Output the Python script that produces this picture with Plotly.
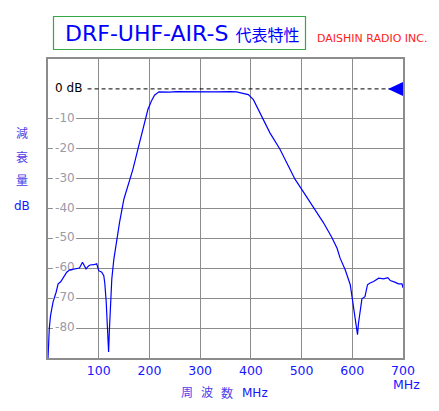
import plotly.graph_objects as go

# ---- data ----
freq_mhz = [0, 0.5, 2.6, 5, 10, 16, 20, 25, 30, 37, 43, 53, 62, 68, 72, 75, 80, 83, 90, 96,
            100, 106, 110, 112, 114.7, 117, 119.5, 121, 123, 125.8, 129.8, 134.4, 141, 149.6,
            157.5, 167.4, 177.2, 187, 197, 203.7, 210, 218.7, 240, 253, 280, 330, 359, 372,
            382, 395, 405, 414.5, 424.4, 437.6, 457.4, 473.9, 487, 500, 523, 543, 560, 570,
            576, 586, 596, 600.5, 605.7, 609, 610.3, 612.3, 615.6, 619, 625, 630, 635, 642,
            652, 662, 670, 675, 685, 691, 698, 700]
atten_db = [-90, -86, -80, -75.8, -71.2, -68, -65.2, -64.5, -63, -61.3, -60.5, -60.2, -59.9, -58, -59.5, -60.2, -59.2, -58.9, -58.8, -58.5,
            -60.8, -61.3, -62.5, -65, -71, -79, -88, -81, -72.5, -63.6, -57, -51.3, -44.7, -36.9,
            -32.5, -26.9, -20.2, -13.6, -6.9, -4.1, -2.1, -1.0, -1.1, -0.9, -1.0, -1.0, -0.9, -1.0,
            -1.4, -1.9, -3.6, -6.9, -10.2, -14.7, -20.2, -25.8, -30.2, -33.5, -39.7, -44.7, -49.8, -53.3,
            -56.6, -60.5, -65.5, -70.4, -77.1, -79.6, -82.2, -78.3, -73.5, -70.2, -69.5, -65.5, -64.9, -64.4,
            -63.3, -63.5, -63.1, -64.1, -64.7, -65.2, -65.2, -66.5]

x_ticks = [100, 200, 300, 400, 500, 600, 700]
x_tick_labels = ["100", "200", "300", "400", "500", "600", "700"]
y_ticks = [0, -10, -20, -30, -40, -50, -60, -70, -80]
y_tick_labels = ["0 dB", "-10", "-20", "-30", "-40", "-50", "-60", "-70", "-80"]
ref_level_db = 0

W, H = 439, 411
L, R, T, B = 48, 36, 59, 53
PW, PH = W - L - R, H - T - B

def px(xp):   # page pixel x -> paper
    return (xp - L) / PW

def py(yp):   # page pixel y -> paper
    return (H - B - yp) / PH

FONT = "DejaVu Sans, Noto Sans CJK JP"
GRID = "#8c8c8c"

fig = go.Figure()

# y tick labels inside the plot (drawn under the curve)
fig.add_trace(go.Scatter(
    x=[14] * len(y_ticks), y=y_ticks, text=y_tick_labels, mode="text",
    textposition="middle right", hoverinfo="skip", showlegend=False,
    textfont=dict(family=FONT, size=12,
                  color=["#000000" if v == ref_level_db else "#9a9aa8" for v in y_ticks]),
    cliponaxis=False,
))

fig.add_trace(go.Scatter(
    x=freq_mhz, y=atten_db, mode="lines",
    line=dict(color="#0000ff", width=1.2), showlegend=False,
))

shapes = []
# white masks behind gray labels
for v in y_ticks:
    if v == ref_level_db:
        continue
    shapes.append(dict(type="rect", xref="x", yref="y", x0=9.5, x1=55.5, y0=v - 2, y1=v + 2,
                       fillcolor="white", line=dict(width=0), layer="between"))
# 0 dB dashed reference line
shapes.append(dict(type="line", xref="x", yref="y", x0=78, x1=700, y0=ref_level_db, y1=ref_level_db,
                   line=dict(color="black", width=1, dash="4px,3px"), layer="above"))
# blue triangle marker at 0 dB
shapes.append(dict(type="path", xref="x", yref="y", xsizemode="pixel", ysizemode="pixel",
                   xanchor=700, yanchor=ref_level_db, path="M -15 0 L 0 7 L 0 -7 Z",
                   fillcolor="#0000ff", line=dict(width=0), layer="above"))
# title box
shapes.append(dict(type="rect", xref="paper", yref="paper",
                   x0=px(53.5), x1=px(305.5), y0=py(49.5), y1=py(16.5),
                   line=dict(color="#33aa44", width=1.2), fillcolor="rgba(0,0,0,0)"))

annotations = [
    dict(xref="paper", yref="paper", x=px(63), y=py(33), xanchor="left", yanchor="middle",
         text="DRF-UHF-AIR-S <span style='font-size:16px'>代表特性</span>",
         showarrow=False, font=dict(family=FONT, size=22, color="#0000ff")),
    dict(xref="paper", yref="paper", x=px(315), y=py(38.5), xanchor="left", yanchor="middle",
         text="DAISHIN RADIO INC.", showarrow=False,
         font=dict(family=FONT, size=11, color="#ff2020")),
    dict(xref="paper", yref="paper", x=px(406), y=py(384), xanchor="center", yanchor="middle",
         text="MHz", showarrow=False, font=dict(family=FONT, size=12.5, color="#1515ff")),
]
# x axis title pieces
for txt, cx, col in [("周", 186.5, "#5040e8"), ("波", 206.5, "#5040e8"),
                     ("数", 227, "#5040e8"), ("MHz", 255, "#1515ff")]:
    annotations.append(dict(xref="paper", yref="paper", x=px(cx), y=py(393), xanchor="center",
                            yanchor="middle", text=txt, showarrow=False,
                            font=dict(family=FONT, size=12, color=col)))
# y axis title pieces
for txt, cy, col in [("減", 133, "#5040e8"), ("衰", 158, "#5040e8"),
                     ("量", 181, "#5040e8"), ("dB", 206, "#1515ff")]:
    annotations.append(dict(xref="paper", yref="paper", x=px(22), y=py(cy), xanchor="center",
                            yanchor="middle", text=txt, showarrow=False,
                            font=dict(family=FONT, size=12, color=col)))

fig.update_layout(
    width=W, height=H, margin=dict(l=L, r=R, t=T, b=B),
    paper_bgcolor="white", plot_bgcolor="white",
    shapes=shapes, annotations=annotations, showlegend=False,
    xaxis=dict(range=[0, 700], tickvals=x_ticks, ticktext=x_tick_labels, showgrid=True,
               gridcolor=GRID, gridwidth=1, showline=True, linecolor=GRID, linewidth=1.5,
               mirror=True, ticks="", zeroline=False,
               tickfont=dict(family=FONT, size=12.5, color="#1515ff")),
    yaxis=dict(range=[-90, 10], tickvals=[v for v in y_ticks if v != ref_level_db],
               showticklabels=False, showgrid=True, gridcolor=GRID, gridwidth=1,
               showline=True, linecolor=GRID, linewidth=1.5, mirror=True, ticks="",
               zeroline=False),
)

fig.write_html("out.html", config={"displayModeBar": False},
               post_script="document.body.style.margin='0';document.body.style.overflow='hidden';")
